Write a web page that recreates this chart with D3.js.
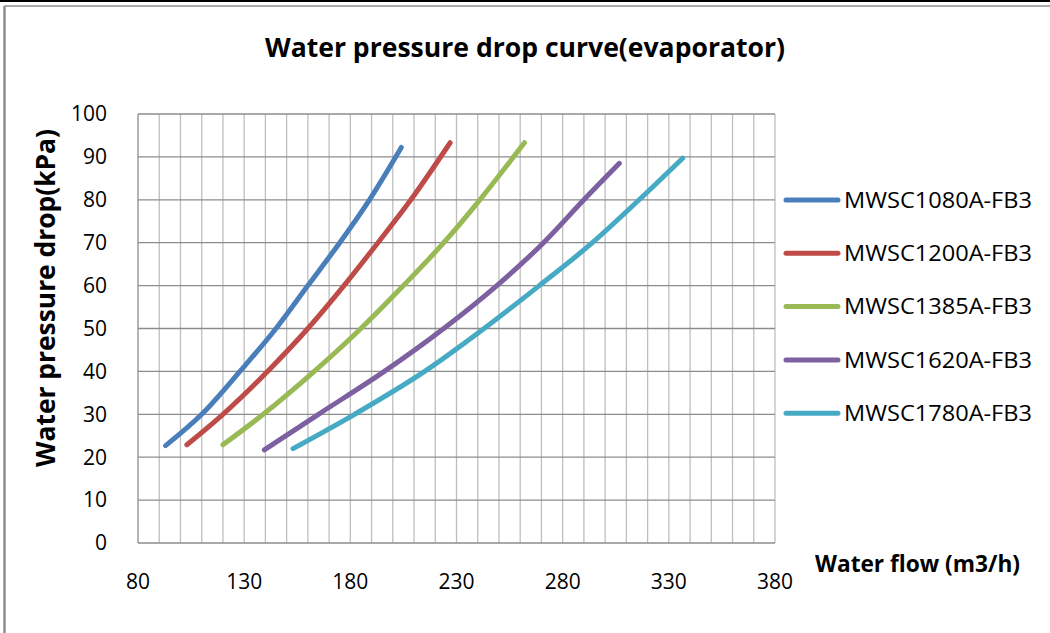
<!DOCTYPE html>
<html>
<head>
<meta charset="utf-8">
<script src="https://cdn.jsdelivr.net/npm/d3@7"></script>
<style>
  body { margin: 0; background: #fff; }
  text { font-family: "Open Sans", "Noto Sans", sans-serif; }
</style>
</head>
<body>
<div id="chart"></div>
<script>
// Chart size
const width = 1050;
const height = 633;

// Series names and colours (Excel defaults)
const seriesNames = ["MWSC1080A-FB3", "MWSC1200A-FB3", "MWSC1385A-FB3", "MWSC1620A-FB3", "MWSC1780A-FB3"];
const seriesColors = ["#4a7ebb", "#be4b48", "#98b954", "#7d60a0", "#46aac5"];

// Water flow (m3/h), one list per series
const flow1080 = [93, 110, 128, 145, 160, 175, 189, 204];
const flow1200 = [103, 120, 141, 160, 177, 193, 208.5, 227];
const flow1385 = [120, 139, 163, 185, 205, 224, 241, 262];
const flow1620 = [139.5, 165, 196, 224, 249, 271, 290, 306.7];
const flow1780 = [153, 182, 215, 243, 269, 294, 316, 336.5];

// Water pressure drop (kPa) for the same points
const drop1080 = [22.7, 30, 40, 50, 60, 70, 80, 92.2];
const drop1200 = [22.9, 30, 40, 50, 60, 70, 80, 93.3];
const drop1385 = [22.9, 30, 40, 50, 60, 70, 80, 93.3];
const drop1620 = [21.7, 30, 40, 50, 60, 70, 80, 88.5];
const drop1780 = [22, 30, 40, 50, 60, 70, 80, 89.7];

const xTicks = [80, 130, 180, 230, 280, 330, 380];
const yTicks = [0, 10, 20, 30, 40, 50, 60, 70, 80, 90, 100];

const flows = [flow1080, flow1200, flow1385, flow1620, flow1780];
const drops = [drop1080, drop1200, drop1385, drop1620, drop1780];

const series = seriesNames.map((name, i) => ({
    name: name,
    color: seriesColors[i],
    points: flows[i].map((f, j) => [f, drops[i][j]])
}));

const svg = d3.select('#chart').append('svg')
    .attr('width', width)
    .attr('height', height);

// Frame around the chart
svg.append('rect').attr('x', 0).attr('y', 0).attr('width', width).attr('height', 2).attr('fill', '#000');
svg.append('line').attr('x1', 4.5).attr('x2', width).attr('y1', 6).attr('y2', 6)
    .attr('stroke', '#8c8c8c').attr('stroke-width', 1.5);
svg.append('line').attr('x1', 4.5).attr('x2', 4.5).attr('y1', 6).attr('y2', height)
    .attr('stroke', '#8c8c8c').attr('stroke-width', 2.5);

// Plot area
const plotLeft = 138, plotRight = 775, plotTop = 114, plotBottom = 543;

const x = d3.scaleLinear().domain([80, 380]).range([plotLeft, plotRight]);
const y = d3.scaleLinear().domain([0, 100]).range([plotBottom, plotTop]);

// Vertical gridlines every 10 m3/h
svg.append('g')
    .selectAll('line')
    .data(d3.range(90, 381, 10))
    .join('line')
    .attr('x1', d => x(d)).attr('x2', d => x(d))
    .attr('y1', plotTop).attr('y2', plotBottom)
    .attr('stroke', '#bebebe').attr('stroke-width', 1.3);

// Horizontal gridlines
svg.append('g')
    .selectAll('line')
    .data(yTicks)
    .join('line')
    .attr('x1', plotLeft).attr('x2', plotRight)
    .attr('y1', d => y(d)).attr('y2', d => y(d))
    .attr('stroke', '#8c8c8c').attr('stroke-width', 1.3);

// Left axis line
svg.append('line')
    .attr('x1', plotLeft).attr('x2', plotLeft).attr('y1', plotTop).attr('y2', plotBottom)
    .attr('stroke', '#8c8c8c').attr('stroke-width', 1.3);

// Tick labels
svg.append('g')
    .selectAll('text')
    .data(yTicks)
    .join('text')
    .attr('x', 107).attr('y', d => y(d))
    .attr('dy', '0.35em')
    .attr('text-anchor', 'end')
    .attr('font-size', 21)
    .text(d => d);

svg.append('g')
    .selectAll('text')
    .data(xTicks)
    .join('text')
    .attr('x', d => x(d)).attr('y', 589)
    .attr('text-anchor', 'middle')
    .attr('font-size', 21)
    .text(d => d);

// Titles
svg.append('text')
    .attr('x', 525).attr('y', 57)
    .attr('text-anchor', 'middle')
    .attr('font-size', 27).attr('font-weight', 'bold')
    .attr('textLength', 520).attr('lengthAdjust', 'spacingAndGlyphs')
    .text('Water pressure drop curve(evaporator)');

svg.append('text')
    .attr('transform', 'translate(55,298) rotate(-90)')
    .attr('text-anchor', 'middle')
    .attr('font-size', 26).attr('font-weight', 'bold')
    .attr('textLength', 338).attr('lengthAdjust', 'spacingAndGlyphs')
    .text('Water pressure drop(kPa)');

svg.append('text')
    .attr('x', 815).attr('y', 572)
    .attr('font-size', 23).attr('font-weight', 'bold')
    .attr('textLength', 205).attr('lengthAdjust', 'spacingAndGlyphs')
    .text('Water flow (m3/h)');

// Curves
const line = d3.line()
    .x(d => x(d[0]))
    .y(d => y(d[1]))
    .curve(d3.curveMonotoneX);

svg.append('g')
    .selectAll('path')
    .data(series)
    .join('path')
    .attr('d', d => line(d.points))
    .attr('fill', 'none')
    .attr('stroke', d => d.color)
    .attr('stroke-width', 5)
    .attr('stroke-linecap', 'round')
    .attr('stroke-linejoin', 'round');

// Legend
const legend = svg.append('g')
    .selectAll('g')
    .data(series)
    .join('g')
    .attr('transform', (d, i) => `translate(0,${200 + i * 53.3})`);

legend.append('line')
    .attr('x1', 786).attr('x2', 838)
    .attr('stroke', d => d.color)
    .attr('stroke-width', 5)
    .attr('stroke-linecap', 'round');

legend.append('text')
    .attr('x', 844).attr('dy', '0.35em')
    .attr('font-size', 22)
    .attr('textLength', 188).attr('lengthAdjust', 'spacingAndGlyphs')
    .text(d => d.name);
</script>
</body>
</html>
